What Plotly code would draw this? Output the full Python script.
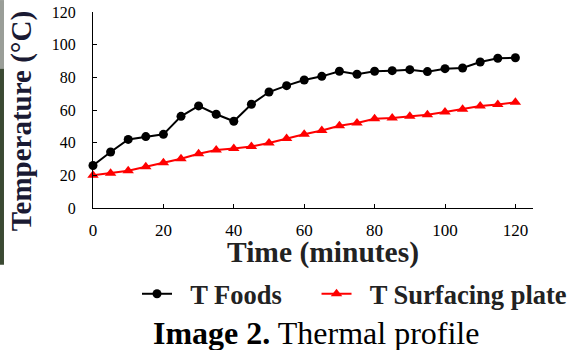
import plotly.graph_objects as go

time_min = [0, 5, 10, 15, 20, 25, 30, 35, 40, 45, 50, 55, 60, 65, 70, 75, 80, 85, 90, 95, 100, 105, 110, 115, 120]
t_foods = [26, 34.3, 42.0, 43.7, 45.1, 56.1, 62.5, 57.4, 53.1, 63.5, 71.0, 74.9, 78.4, 80.6, 83.7, 81.9,
           83.7, 84.1, 84.7, 83.5, 85.3, 85.7, 89.4, 91.7, 92.0]
t_plate = [20.0, 21.2, 22.8, 25.3, 27.7, 30.2, 33.2, 35.5, 36.5, 37.7, 39.8, 42.6, 45.1, 47.5, 50.4, 52.0,
           54.7, 55.1, 56.1, 57.1, 58.8, 60.4, 62.4, 63.3, 64.7]
x_ticks = [0, 20, 40, 60, 80, 100, 120]
y_ticks = [0, 20, 40, 60, 80, 100, 120]

SERIF = "Liberation Serif"
NB = "\u00a0\u00a0"

fig = go.Figure()
fig.add_trace(go.Scatter(
    x=time_min, y=t_foods, mode="lines+markers", name=NB + "<b>T Foods</b>",
    line=dict(color="#000000", width=2),
    marker=dict(symbol="circle", size=9, color="#000000"),
    cliponaxis=False, legend="legend",
))
fig.add_trace(go.Scatter(
    x=time_min, y=t_plate, mode="lines+markers", name=NB + "<b>T Surfacing plate</b>",
    line=dict(color="#ff0000", width=2),
    marker=dict(symbol="triangle-up", size=10, color="#ff0000"),
    cliponaxis=False, legend="legend2",
))

axis_common = dict(
    showline=True, linecolor="#000000", linewidth=1,
    ticks="inside", ticklen=4, tickcolor="#000000", tickwidth=1,
    showgrid=False, zeroline=False, automargin=False,
)
fig.update_xaxes(range=[0, 125], tickvals=x_ticks, ticktext=[str(v) for v in x_ticks],
                 tickfont=dict(family=SERIF, size=17, color="#000000"),
                 ticklabelstandoff=7, **axis_common)
fig.update_yaxes(range=[0, 120], tickvals=y_ticks, ticktext=[str(v) for v in y_ticks],
                 tickfont=dict(family=SERIF, size=16, color="#000000"),
                 ticklabelstandoff=13, **axis_common)

legend_common = dict(orientation="h", xanchor="left", yanchor="middle", y=-0.439,
                     font=dict(family=SERIF, size=26.5, color="#222222"),
                     bgcolor="rgba(0,0,0,0)", borderwidth=0)

fig.update_layout(
    width=573, height=350,
    margin=dict(l=93, r=40, t=12, b=142, autoexpand=False),
    paper_bgcolor="#ffffff", plot_bgcolor="#ffffff",
    showlegend=True,
    legend=dict(x=0.1, **legend_common),
    legend2=dict(x=0.508, **legend_common),
    annotations=[
        dict(text="<b>Time (minutes)</b>", xref="paper", yref="paper", x=0.523, y=-0.226,
             xanchor="center", yanchor="middle", showarrow=False,
             font=dict(family=SERIF, size=29.5, color="#222222")),
        dict(text="<b>Temperature (°C)</b>", xref="paper", yref="paper", x=-0.161, y=0.444,
             xanchor="center", yanchor="middle", showarrow=False, textangle=-90,
             font=dict(family=SERIF, size=29, color="#1a1a33")),
        dict(text="<b>Image 2.</b> Thermal profile", xref="paper", yref="paper", x=0.507, y=-0.638,
             xanchor="center", yanchor="middle", showarrow=False,
             font=dict(family=SERIF, size=32, color="#000000")),
    ],
    shapes=[
        dict(type="rect", xref="paper", yref="paper", x0=-0.2114, x1=-0.2023, y0=1.061, y1=0.71,
             fillcolor="#9a9e98", line=dict(width=0), layer="below"),
        dict(type="rect", xref="paper", yref="paper", x0=-0.2114, x1=-0.2023, y0=0.71, y1=-0.29,
             fillcolor="#3b4a33", line=dict(width=0), layer="below"),
    ],
)

fig.write_html("out.html", config={"displayModeBar": False},
               post_script="document.body.style.margin='0';")
